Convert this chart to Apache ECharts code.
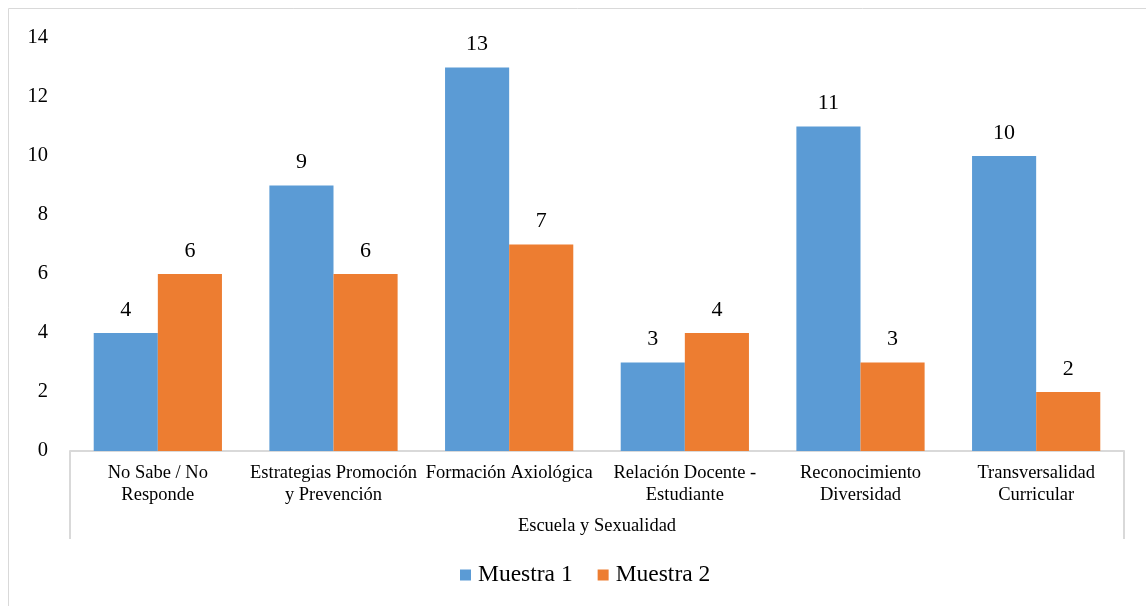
<!DOCTYPE html>
<html lang="es" style="height: 100%">
<head>
  <meta charset="utf-8">
</head>
<body style="height: 100%; margin: 0; background: #fff">
  <div id="container" style="width: 1146px; height: 606px"></div>

  <script type="text/javascript" src="https://fastly.jsdelivr.net/npm/echarts@6.0.0/dist/echarts.min.js"></script>
  <script type="text/javascript">
    var categories = [
      'No Sabe / No\nResponde',
      'Estrategias Promoción\ny Prevención',
      'Formación Axiológica',
      'Relación Docente -\nEstudiante',
      'Reconocimiento\nDiversidad',
      'Transversalidad\nCurricular'
    ];
    var groupLabel = ['Escuela y Sexualidad'];
    var muestra1 = [4, 9, 13, 3, 11, 10];
    var muestra2 = [6, 6, 7, 4, 3, 2];

    var dom = document.getElementById('container');
    var myChart = echarts.init(dom, null, { renderer: 'canvas' });

    var font = "'Liberation Serif', 'Times New Roman', serif";
    var gray = '#d9d9d9';

    var option = {
      animation: false,
      color: ['#5b9bd5', '#ed7d31'],
      textStyle: { fontFamily: font, color: '#000' },
      graphic: [
        {
          type: 'rect',
          shape: { x: 8.5, y: 8.5, width: 1150, height: 610 },
          style: { fill: 'none', stroke: gray, lineWidth: 1 },
          silent: true
        }
      ],
      legend: {
        left: 455,
        top: 558,
        itemWidth: 11,
        itemHeight: 11,
        itemGap: 25,
        icon: 'rect',
        textStyle: { fontFamily: font, fontSize: 23.5, color: '#000', padding: [0, 0, 0, 2] },
        data: ['Muestra 1', 'Muestra 2']
      },
      grid: { left: 70, right: 22, top: 38, bottom: 155 },
      xAxis: [
        {
          type: 'category',
          data: categories,
          axisLine: { lineStyle: { color: gray, width: 2 } },
          axisTick: { show: false },
          axisLabel: {
            interval: 0,
            margin: 11,
            fontFamily: font,
            fontSize: 18.5,
            lineHeight: 22,
            color: '#000'
          }
        },
        {
          type: 'category',
          position: 'bottom',
          data: groupLabel,
          axisLine: { show: false },
          axisTick: {
            show: true,
            inside: false,
            length: 88,
            lineStyle: { color: gray, width: 2 }
          },
          axisLabel: {
            margin: 66,
            fontFamily: font,
            fontSize: 18.5,
            color: '#000'
          }
        }
      ],
      yAxis: {
        type: 'value',
        min: 0,
        max: 14,
        interval: 2,
        splitLine: { show: false },
        axisLine: { show: false },
        axisTick: { show: false },
        axisLabel: { fontFamily: font, fontSize: 20.5, color: '#000', margin: 22 }
      },
      series: [
        {
          name: 'Muestra 1',
          type: 'bar',
          data: muestra1,
          barCategoryGap: '27%',
          barGap: '0%',
          label: { show: true, position: 'top', distance: 12, fontFamily: font, fontSize: 22, color: '#000' }
        },
        {
          name: 'Muestra 2',
          type: 'bar',
          data: muestra2,
          barCategoryGap: '27%',
          barGap: '0%',
          label: { show: true, position: 'top', distance: 12, fontFamily: font, fontSize: 22, color: '#000' }
        }
      ]
    };

    myChart.setOption(option);
    window.addEventListener('resize', myChart.resize);
  </script>
</body>
</html>
